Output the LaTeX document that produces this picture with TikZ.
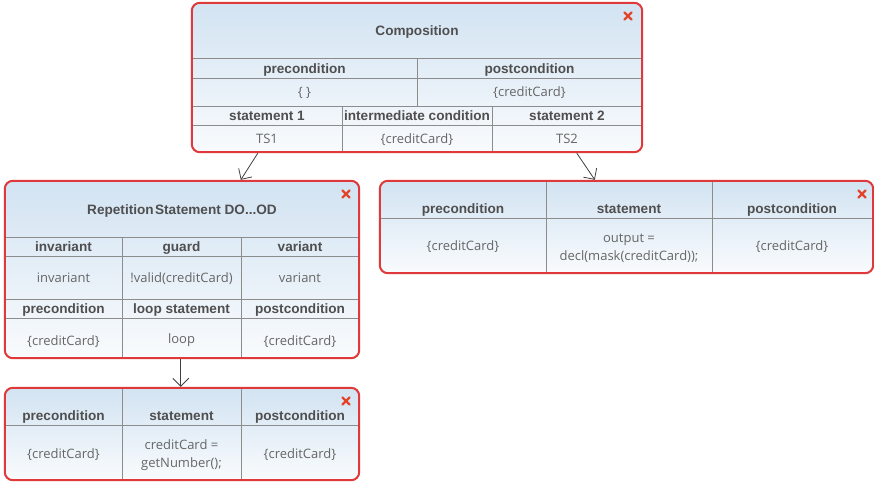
\documentclass[tikz,border=0pt]{standalone}
\usepackage{fontspec}
\setmainfont{Open Sans}
\newfontfamily\hdrfont{Liberation Sans}
\usetikzlibrary{arrows.meta,calc}
\definecolor{boxred}{HTML}{E0393B}
\definecolor{gridgray}{HTML}{8C8C8C}
\definecolor{topblue}{HTML}{D2E3F2}
\definecolor{botwhite}{HTML}{F9FBFD}
\definecolor{hdrtext}{HTML}{4F4F4F}
\definecolor{valtext}{HTML}{666666}
\definecolor{xred}{HTML}{E2452A}
\definecolor{arrowgray}{HTML}{404040}
\tikzset{
  x=1pt, y=-1pt,
  panel/.style={rectangle, inner sep=0pt, top color=topblue, bottom color=botwhite},
  panelborder/.style={draw=boxred, line width=2pt, rounded corners=8pt},
  gridline/.style={draw=gridgray, line width=1pt},
  hdr/.style={font=\hdrfont\fontsize{13.6}{15}\selectfont\bfseries, text=hdrtext, inner sep=0pt, text height=11pt, text depth=1pt},
  val/.style={font=\fontsize{13}{18.5}\selectfont, text=valtext, inner sep=0pt, align=center},
  oneline/.style={text height=11pt, text depth=1.5pt},
  closemark/.style={draw=xred, line width=2.2pt, line cap=round},
  flow/.style={draw=arrowgray, line width=0.8pt, -{Straight Barb[length=8pt,width=16pt]}}
}
\newcommand{\closeicon}[1]{%
  \draw[closemark] ($(#1)+(-3.5,-3.5)$) -- ($(#1)+(3.5,3.5)$);
  \draw[closemark] ($(#1)+(-3.5,3.5)$) -- ($(#1)+(3.5,-3.5)$);}
\begin{document}
\begin{tikzpicture}
\useasboundingbox (0,0) rectangle (874,482);

% ---------- Composition ----------
\node[panel, minimum width=450pt, minimum height=149pt, rounded corners=8pt] (comp) at (417,77.5) {};
\draw[gridline] (192,58) -- (642,58);
\draw[gridline] (192,78) -- (642,78);
\draw[gridline] (192,106) -- (642,106);
\draw[gridline] (192,125) -- (642,125);
\draw[gridline] (417,58) -- (417,106);
\draw[gridline] (342,106) -- (342,152);
\draw[gridline] (492,106) -- (492,152);
\draw[panelborder] (comp.south west) rectangle (comp.north east);
\node[hdr] (compt) at (417,30) {Composition};
\node[hdr] (comph1) at (304.5,68) {precondition};
\node[hdr] (comph2) at (529.5,68) {postcondition};
\node[val, oneline] (compv1) at (304.5,92) {\{ \}};
\node[val, oneline] (compv2) at (529.5,92) {\{creditCard\}};
\node[hdr] (comph3) at (267,115.5) {statement 1};
\node[hdr] (comph4) at (417,115.5) {intermediate condition};
\node[hdr] (comph5) at (567,115.5) {statement 2};
\node[val, oneline] (compv3) at (267,139) {TS1};
\node[val, oneline] (compv4) at (417,139) {\{creditCard\}};
\node[val, oneline] (compv5) at (567,139) {TS2};
\coordinate (compx) at (628,16);
\closeicon{compx}

% ---------- Repetition ----------
\node[panel, minimum width=354pt, minimum height=177pt, rounded corners=8pt] (rep) at (182,269.5) {};
\draw[gridline] (5,237) -- (359,237);
\draw[gridline] (5,256) -- (359,256);
\draw[gridline] (5,299) -- (359,299);
\draw[gridline] (5,318) -- (359,318);
\draw[gridline] (122,237) -- (122,358);
\draw[gridline] (241,237) -- (241,358);
\draw[panelborder] (rep.south west) rectangle (rep.north east);
\node[hdr] (rept) at (182,209) {Repetition\hspace{0.1em}Statement DO...OD};
\node[hdr] (reph1) at (63.5,246.5) {invariant};
\node[hdr] (reph2) at (181.5,246.5) {guard};
\node[hdr] (reph3) at (300,246.5) {variant};
\node[val, oneline] (repv1) at (63.5,277.5) {invariant};
\node[val, oneline] (repv2) at (181.5,277.5) {!valid(creditCard)};
\node[val, oneline] (repv3) at (300,277.5) {variant};
\node[hdr] (reph4) at (63.5,308.5) {precondition};
\node[hdr] (reph5) at (181.5,308.5) {loop statement};
\node[hdr] (reph6) at (300,308.5) {postcondition};
\node[val, oneline] (repv4) at (63.5,341) {\{creditCard\}};
\node[val, oneline] (repv5) at (181.5,338.5) {loop};
\node[val, oneline] (repv6) at (300,341) {\{creditCard\}};
\coordinate (repx) at (346,194);
\closeicon{repx}

% ---------- Statement (right) ----------
\node[panel, minimum width=493pt, minimum height=92pt, rounded corners=8pt] (stb) at (626.5,227) {};
\draw[gridline] (380,218) -- (873,218);
\draw[gridline] (546,181) -- (546,273);
\draw[gridline] (712,181) -- (712,273);
\draw[panelborder] (stb.south west) rectangle (stb.north east);
\node[hdr] (stbh1) at (463,208.5) {precondition};
\node[hdr] (stbh2) at (629,208.5) {statement};
\node[hdr] (stbh3) at (792,208.5) {postcondition};
\node[val, oneline] (stbv1) at (463,246) {\{creditCard\}};
\node[val] (stbv2) at (629,248) {output =\\decl(mask(creditCard));};
\node[val, oneline] (stbv3) at (792,246) {\{creditCard\}};
\coordinate (stbx) at (862,194);
\closeicon{stbx}

% ---------- Statement (bottom) ----------
\node[panel, minimum width=354pt, minimum height=92pt, rounded corners=8pt] (sta) at (182,434) {};
\draw[gridline] (5,425) -- (359,425);
\draw[gridline] (122,388) -- (122,480);
\draw[gridline] (241,388) -- (241,480);
\draw[panelborder] (sta.south west) rectangle (sta.north east);
\node[hdr] (stah1) at (63.5,415) {precondition};
\node[hdr] (stah2) at (181.5,415) {statement};
\node[hdr] (stah3) at (300,415) {postcondition};
\node[val, oneline] (stav1) at (63.5,454) {\{creditCard\}};
\node[val] (stav2) at (181.5,455) {creditCard =\\getNumber();};
\node[val, oneline] (stav3) at (300,454) {\{creditCard\}};
\coordinate (stax) at (346,401);
\closeicon{stax}

% ---------- connectors ----------
\draw[flow] ($(comp.south west)+(66,1)$) -- ($(rep.north west)+(236,-1)$);
\draw[flow] ($(comp.south west)+(385,1)$) -- ($(stb.north west)+(215,-1)$);
\draw[flow] ($(rep.south west)+(176,1)$) -- ($(sta.north west)+(176,-1)$);
\end{tikzpicture}
\end{document}
